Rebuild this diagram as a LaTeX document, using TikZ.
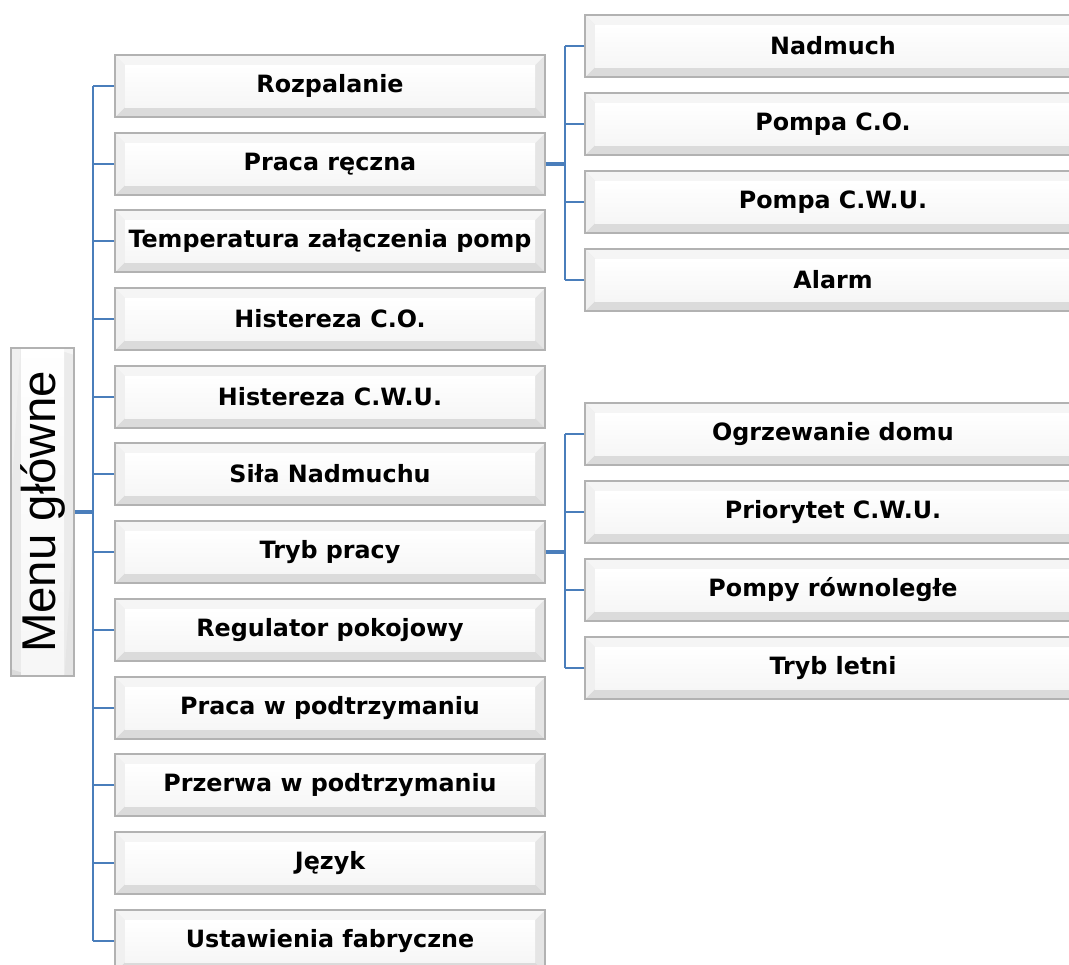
\documentclass[tikz,border=0pt]{standalone}
\usepackage{fontspec}
\newfontfamily\boxfont{DejaVu Sans}
\newfontfamily\menufont{Liberation Sans}
\usetikzlibrary{positioning}
\definecolor{linkblue}{RGB}{74,126,187}
\tikzstyle{menubox} = [draw=gray!60, line width=0.6pt, fill=gray!16, inner sep=0pt,
  font=\boxfont\bfseries\fontsize{11.9}{14}\selectfont,
  path picture={
    \fill[gray!28] (path picture bounding box.south west) -- (path picture bounding box.south east)
      -- ([shift={(-5pt,5pt)}]path picture bounding box.south east) -- ([shift={(5pt,5pt)}]path picture bounding box.south west) -- cycle;
    \fill[gray!20] (path picture bounding box.north east) -- (path picture bounding box.south east)
      -- ([shift={(-5pt,5pt)}]path picture bounding box.south east) -- ([shift={(-5pt,-5pt)}]path picture bounding box.north east) -- cycle;
    \fill[gray!8] (path picture bounding box.north west) -- (path picture bounding box.north east)
      -- ([shift={(-5pt,-5pt)}]path picture bounding box.north east) -- ([shift={(5pt,-5pt)}]path picture bounding box.north west) -- cycle;
    \fill[gray!12] (path picture bounding box.north west) -- (path picture bounding box.south west)
      -- ([shift={(5pt,5pt)}]path picture bounding box.south west) -- ([shift={(5pt,-5pt)}]path picture bounding box.north west) -- cycle;
    \fill[top color=white, bottom color=gray!7] ([shift={(5pt,-5pt)}]path picture bounding box.north west)
      rectangle ([shift={(-5pt,5pt)}]path picture bounding box.south east);
  }]
\tikzstyle{mainbox} = [menubox, minimum width=215pt, minimum height=31pt]
\tikzstyle{subbox} = [menubox, minimum width=248pt, minimum height=31pt]
\tikzstyle{branch} = [linkblue, line width=1pt]
\tikzstyle{link} = [linkblue, line width=2pt]

\begin{document}
\begin{tikzpicture}[x=0.5pt, y=-0.5pt]
	\clip (0,0) rectangle (1069,964);
	\fill[white] (0,0) rectangle (1069,964);
	% root
	\node[menubox, rotate=90, minimum width=164pt, minimum height=31.5pt,
	  font=\menufont\fontsize{23.7}{26}\selectfont] (menu) at (42.5,512) {Menu główne};
	% main menu
	\node[mainbox] (rozp) at (330,86) {Rozpalanie};
	\node[mainbox] (reczna) at (330,164) {Praca ręczna};
	\node[mainbox] (temp) at (330,241) {Temperatura załączenia pomp};
	\node[mainbox] (hco) at (330,319) {Histereza C.O.};
	\node[mainbox] (hcwu) at (330,397) {Histereza C.W.U.};
	\node[mainbox] (sila) at (330,474) {Siła Nadmuchu};
	\node[mainbox] (tryb) at (330,552) {Tryb pracy};
	\node[mainbox] (regul) at (330,630) {Regulator pokojowy};
	\node[mainbox] (podtrz) at (330,708) {Praca w podtrzymaniu};
	\node[mainbox] (przerwa) at (330,785) {Przerwa w podtrzymaniu};
	\node[mainbox] (jezyk) at (330,863) {Język};
	\node[mainbox] (fabr) at (330,941) {Ustawienia fabryczne};
	% Praca ręczna
	\node[subbox] (nadm) at (833,46) {Nadmuch};
	\node[subbox] (pco) at (833,124) {Pompa C.O.};
	\node[subbox] (pcwu) at (833,202) {Pompa C.W.U.};
	\node[subbox] (alarm) at (833,280) {Alarm};
	% Tryb pracy
	\node[subbox] (ogrz) at (833,434) {Ogrzewanie domu};
	\node[subbox] (prior) at (833,512) {Priorytet C.W.U.};
	\node[subbox] (rown) at (833,590) {Pompy równoległe};
	\node[subbox] (letni) at (833,668) {Tryb letni};
	% connectors
	\coordinate (mtop) at (93,86);
	\coordinate (mbot) at (93,941);
	\draw[branch] (mtop) -- (mbot);
	\draw[link] (menu.south) -- (menu.south -| mtop);
	\foreach \n in {rozp,reczna,temp,hco,hcwu,sila,tryb,regul,podtrz,przerwa,jezyk,fabr}
		\draw[branch] (\n.west) -- (\n.west -| mtop);
	\coordinate (atop) at (565,46);
	\coordinate (abot) at (565,280);
	\draw[branch] (atop) -- (abot);
	\draw[link] (reczna.east) -- (reczna.east -| atop);
	\foreach \n in {nadm,pco,pcwu,alarm}
		\draw[branch] (\n.west) -- (\n.west -| atop);
	\coordinate (btop) at (565,434);
	\coordinate (bbot) at (565,668);
	\draw[branch] (btop) -- (bbot);
	\draw[link] (tryb.east) -- (tryb.east -| btop);
	\foreach \n in {ogrz,prior,rown,letni}
		\draw[branch] (\n.west) -- (\n.west -| btop);
\end{tikzpicture}
\end{document}
